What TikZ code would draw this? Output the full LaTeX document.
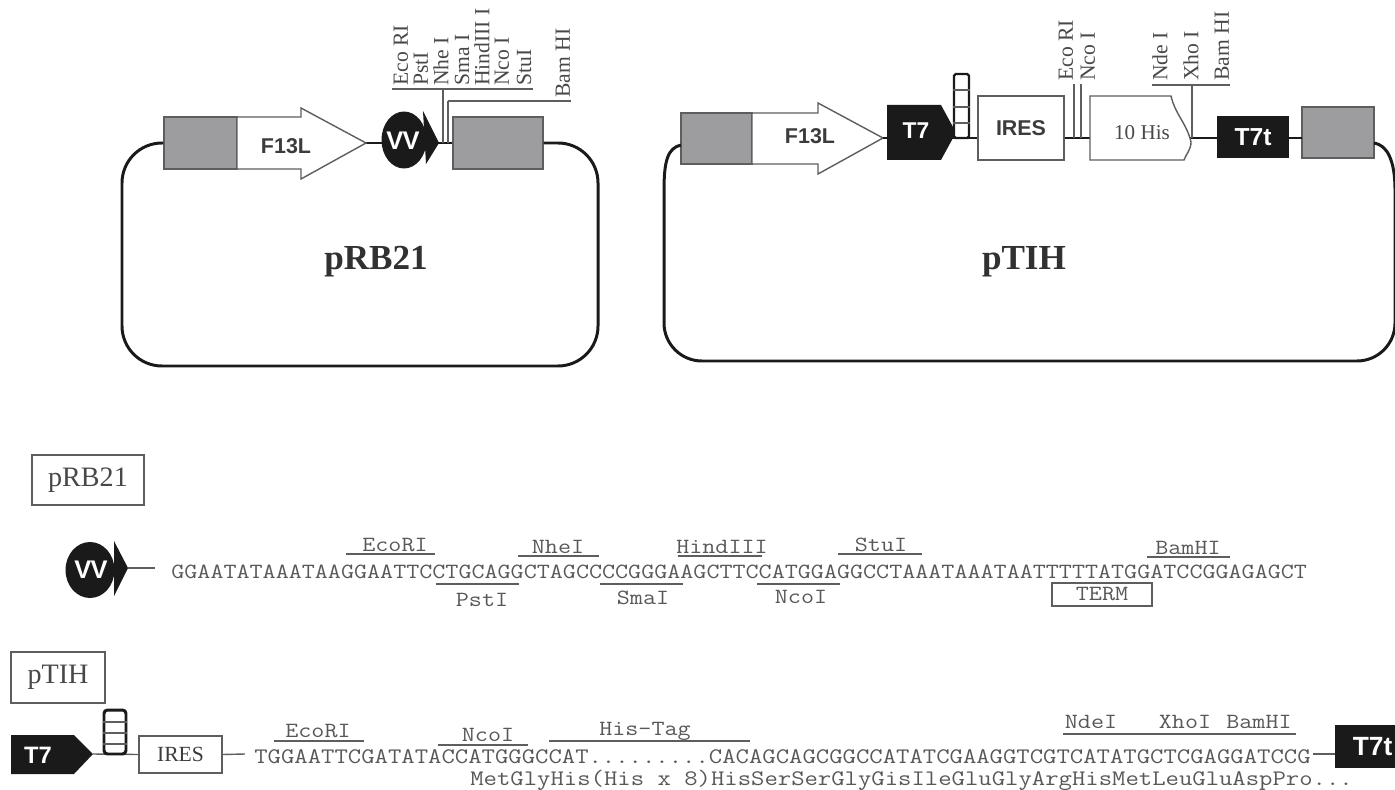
\documentclass[tikz,border=0pt]{standalone}
\usepackage{fontspec}
\setmainfont{Liberation Serif}
\setsansfont{Liberation Sans}
\setmonofont[FakeStretch=1.17]{Latin Modern Mono}
\usepackage{xcolor}
\usetikzlibrary{positioning,shapes.geometric}
\definecolor{Ink}{HTML}{1A1A1A}
\definecolor{Rule}{HTML}{5E5E5E}
\definecolor{Seq}{HTML}{585858}
\definecolor{Flank}{HTML}{9D9DA0}
\tikzset{
  backbone/.style={Ink,line width=1.7pt},
  thinlink/.style={Rule,line width=0.8pt},
  outline/.style={draw=Rule,line width=0.8pt},
  flankbox/.style={outline,fill=Flank,inner sep=0pt},
  labelbox/.style={outline,fill=white,inner sep=0pt,text=Ink!85},
  solidbox/.style={fill=Ink,text=white,inner sep=0pt,font=\sffamily\bfseries\fontsize{14}{14}\selectfont},
  sitelabel/.style={rotate=90,anchor=west,inner sep=0pt,text=Ink!80,font=\fontsize{12.3}{12.3}\selectfont},
  sitebar/.style={Rule,line width=0.8pt},
  seqtext/.style={anchor=west,inner sep=0pt,text=Seq,font=\ttfamily\fontsize{12.33}{12.33}\selectfont},
  seqtextb/.style={anchor=west,inner sep=0pt,text=Seq,font=\ttfamily\fontsize{12.63}{12.63}\selectfont},
  seqsite/.style={inner sep=0pt,text=Seq,font=\ttfamily\fontsize{12.33}{12.33}\selectfont},
  genelabel/.style={inner sep=0pt,text=Ink!85,font=\sffamily\bfseries\fontsize{12.2}{12.2}\selectfont},
  namelabel/.style={inner sep=0pt,text=Ink!90,font=\bfseries\fontsize{20}{20}\selectfont},
  namebox/.style={outline,fill=white,inner sep=0pt,text=Ink!80,font=\fontsize{16}{16}\selectfont},
}
\begin{document}
\begin{tikzpicture}[x=0.02cm,y=-0.02cm]
\useasboundingbox (0,0) rectangle (1395,790);
% pRB21 map
\coordinate (rbNW) at (122,143);
\coordinate (rbSW) at (122,366);
\coordinate (rbSE) at (598,366);
\coordinate (rbNE) at (598,143);
\coordinate (rbTip) at (366,143);
\coordinate (rbVvTip) at (439,143);
\node[flankbox,minimum width=1.46cm,minimum height=1.04cm] (rbFlankL) at (200.5,143) {};
\node[flankbox,minimum width=1.80cm,minimum height=1.04cm] (rbFlankR) at (498,143) {};
\draw[backbone,rounded corners=0.8cm] (rbFlankL.west) -- (rbNW) -- (rbSW) -- (rbSE) -- (rbNE) -- (rbFlankR.east);
\draw[backbone] (rbTip) -- (rbFlankR.west);
\draw[outline,fill=white] (237,117) -- (301,117) -- (301,108) -- (rbTip) -- (301,179) -- (301,169) -- (237,169) -- cycle;
\node[genelabel] (rbF13) at (286,146) {F13L};
\fill[Ink] (423,111) -- (rbVvTip) -- (426,164) -- cycle;
\node[solidbox,ellipse,minimum width=0.90cm,minimum height=1.14cm] (rbVv) at (404,140) {};
\node[text=white,inner sep=0pt,font=\sffamily\bfseries\fontsize{14.5}{14.5}\selectfont] (rbVvText) at (403,141) {V\kern-0.5ptV};
\node[sitelabel] (rbEco) at (401,86) {Eco RI};
\node[sitelabel] (rbPst) at (421,86) {PstI};
\node[sitelabel] (rbNhe) at (441,86) {Nhe I};
\node[sitelabel] (rbSma) at (462,86) {Sma I};
\node[sitelabel] (rbHind) at (482,86) {HindIII I};
\node[sitelabel] (rbNco) at (502,86) {Nco I};
\node[sitelabel] (rbStu) at (524,86) {StuI};
\node[sitelabel] (rbBam) at (563,98) {Bam HI};
\draw[sitebar] (392,89) -- (533,89);
\draw[sitebar] (443,89) -- (443,143);
\draw[sitebar] (448,101) -- (571,101);
\draw[sitebar] (448,101) -- (448,143);
\node[namelabel] (rbName) at (376,262) {pRB21};
% pTIH map
\coordinate (tiTip) at (883,138);
\coordinate (tiBendL) at (681,145);
\coordinate (tiBendR) at (1374,143);
\node[flankbox,minimum width=1.42cm,minimum height=1.02cm] (tiFlankL) at (716.5,138.5) {};
\node[flankbox,minimum width=1.44cm,minimum height=1.02cm] (tiFlankR) at (1338,132.5) {};
\draw[backbone] (tiBendL) .. controls (668,148) and (664,160) .. (664,190);
\draw[backbone] (tiBendR) .. controls (1387,145) and (1395,160) .. (1395,190);
\draw[backbone,rounded corners=0.76cm] (664,190) -- (664,361) -- (1395,361) -- (1395,190);
\draw[outline,fill=white] (752,113) -- (818,113) -- (818,103) -- (tiTip) -- (818,174) -- (818,164) -- (752,164) -- cycle;
\node[genelabel] (tiF13) at (810,136) {F13L};
\draw[backbone] (tiTip) -- (1302,138);
\node[labelbox,minimum width=1.72cm,minimum height=1.28cm,font=\sffamily\bfseries\fontsize{12.2}{12.2}\selectfont] (tiIres) at (1021,128) {IRES};
\filldraw[outline,fill=white] (1090,96) -- (1171,96) .. controls (1175,114) and (1187,124) .. (1191,142) .. controls (1191,150) and (1186,154) .. (1184,160) -- (1090,160) -- cycle;
\node[inner sep=0pt,text=Ink!80,font=\fontsize{12}{12}\selectfont] (tiHis) at (1142,133) {10 His};
\fill[Ink] (887,105) -- (941,105) -- (953,127) -- (953,138) -- (941,160) -- (887,160) -- cycle;
\node[text=white,inner sep=0pt,font=\sffamily\bfseries\fontsize{13}{13}\selectfont] (tiT7) at (916,131) {T7};
\node[solidbox,minimum width=1.44cm,minimum height=0.84cm] (tiT7t) at (1253,137) {T7t};
\node[draw=Ink,fill=white,line width=1.3pt,rounded corners=1pt,minimum width=0.30cm,minimum height=1.28cm,inner sep=0pt] (tiStem) at (961.5,106) {};
\draw[Rule,line width=0.6pt] (tiStem.west |- 0,90) -- (tiStem.east |- 0,90);
\draw[Rule,line width=0.6pt] (tiStem.west |- 0,107) -- (tiStem.east |- 0,107);
\draw[Rule,line width=0.6pt] (tiStem.west |- 0,123) -- (tiStem.east |- 0,123);
\node[sitelabel] (tiEco) at (1066,81) {Eco RI};
\node[sitelabel] (tiNco) at (1088,81) {Nco I};
\node[sitelabel] (tiNde) at (1160,81) {Nde I};
\node[sitelabel] (tiXho) at (1191,81) {Xho I};
\node[sitelabel] (tiBam) at (1222,81) {Bam HI};
\draw[sitebar] (1074,84) -- (1074,138);
\draw[sitebar] (1081,84) -- (1081,138);
\draw[sitebar] (1152,85) -- (1230,85);
\draw[sitebar] (1192,85) -- (1192,138);
\node[namelabel] (tiName) at (1024,262) {pTIH};
% pRB21 sequence
\node[namebox,minimum width=2.24cm,minimum height=1.00cm] (seqA) at (88,480) {pRB21};
\coordinate (aTip) at (128,568);
\coordinate (aEnd) at (155,568);
\fill[Ink] (114,541) -- (aTip) -- (114,596) -- cycle;
\node[solidbox,ellipse,minimum width=0.98cm,minimum height=1.12cm] (aVv) at (90,570) {};
\node[text=white,inner sep=0pt,font=\sffamily\bfseries\fontsize{14.5}{14.5}\selectfont] (aVvText) at (91,570) {V\kern-0.5ptV};
\draw[thinlink] (aTip) -- (aEnd);
\node[seqtext] (aSeq) at (171,572) {GGAATATAAATAAGGAATTCCTGCAGGCTAGCCCCGGGAAGCTTCCATGGAGGCCTAAATAAATAATTTTTATGGATCCGGAGAGCT};
\node[seqsite] (aEco) at (395,545) {EcoRI};
\node[seqsite] (aNhe) at (558,547) {NheI};
\node[seqsite] (aHind) at (722,547) {HindIII};
\node[seqsite] (aStu) at (881,545) {StuI};
\node[seqsite] (aBam) at (1188,548) {BamHI};
\node[seqsite] (aPst) at (482,600) {PstI};
\node[seqsite] (aSma) at (643,598) {SmaI};
\node[seqsite] (aNco) at (801,597) {NcoI};
\draw[sitebar] (346,554) -- (435,554);
\draw[sitebar] (518,556) -- (599,556);
\draw[sitebar] (678,556) -- (762,556);
\draw[sitebar] (838,554) -- (922,554);
\draw[sitebar] (1147,557) -- (1230,557);
\draw[sitebar] (436,584) -- (519,584);
\draw[sitebar] (600,584) -- (683,584);
\draw[sitebar] (757,584) -- (840,584);
\node[seqsite,outline,minimum width=2.00cm,minimum height=0.46cm] (aTerm) at (1102,594.5) {TERM};
% pTIH sequence
\node[namebox,minimum width=1.88cm,minimum height=1.02cm] (seqB) at (58,677.5) {pTIH};
\coordinate (bTip) at (93,754);
\fill[Ink] (11,735) -- (74,735) -- (bTip) -- (74,774) -- (11,774) -- cycle;
\node[text=white,inner sep=0pt,font=\sffamily\bfseries\fontsize{13.5}{13.5}\selectfont] (bT7) at (38,755) {T7};
\node[labelbox,minimum width=1.66cm,minimum height=0.74cm,font=\fontsize{12.3}{12.3}\selectfont] (bIres) at (180.5,754.5) {IRES};
\coordinate (bFree) at (245,754);
\draw[thinlink] (bTip) -- (bIres.west);
\draw[thinlink] (bIres.east) -- (bFree);
\node[draw=Ink,fill=white,line width=1.7pt,rounded corners=2pt,minimum width=0.44cm,minimum height=0.88cm,inner sep=0pt] (bStem) at (115,732) {};
\draw[Rule,line width=0.6pt] (bStem.west |- 0,722) -- (bStem.east |- 0,722);
\draw[Rule,line width=0.6pt] (bStem.west |- 0,733) -- (bStem.east |- 0,733);
\draw[Rule,line width=0.6pt] (bStem.west |- 0,744) -- (bStem.east |- 0,744);
\node[seqtextb] (bSeq) at (254,757) {TGGAATTCGATATACCATGGGCCAT.........CACAGCAGCGGCCATATCGAAGGTCGTCATATGCTCGAGGATCCG};
\node[seqtextb] (bPep) at (470,780) {MetGlyHis(His x 8)HisSerSerGlyGisIleGluGlyArgHisMetLeuGluAspPro...};
\node[seqsite] (bEco) at (318,731) {EcoRI};
\node[seqsite] (bNco) at (488,735) {NcoI};
\node[seqsite] (bTag) at (645,731) {His-Tag};
\node[seqsite] (bNde) at (1091,722) {NdeI};
\node[seqsite] (bXho) at (1185,722) {XhoI};
\node[seqsite] (bBam) at (1259,722) {BamHI};
\draw[sitebar] (274,741) -- (364,741);
\draw[sitebar] (438,745) -- (528,745);
\draw[sitebar] (549,741) -- (750,741);
\draw[sitebar] (1063,734) -- (1296,734);
\coordinate (bEnd) at (1313,754);
\node[solidbox,minimum width=1.20cm,minimum height=0.86cm,font=\sffamily\bfseries\fontsize{15}{15}\selectfont] (bT7t) at (1365,746.5) {\hspace*{0.3cm}T7t};
\draw[thinlink] (bEnd) -- (bT7t.west |- bEnd);
\end{tikzpicture}
\end{document}
